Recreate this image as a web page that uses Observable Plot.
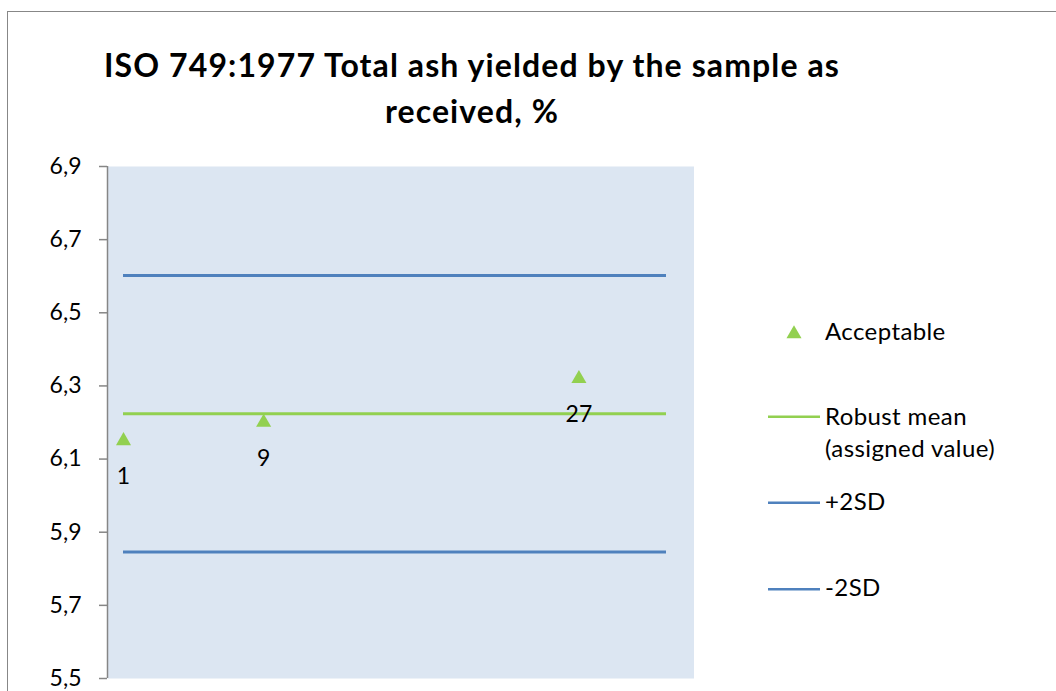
<!DOCTYPE html>
<html><head><meta charset="utf-8">
<script src="https://cdn.jsdelivr.net/npm/d3@7"></script>
<script src="https://cdn.jsdelivr.net/npm/@observablehq/plot@0.6"></script>
<style>
html,body{margin:0;padding:0}
body{width:1056px;height:691px;overflow:hidden;background:#fff;font-family:Lato,sans-serif;position:relative;color:#000}
#frame{position:absolute;left:7px;top:11px;width:1200px;height:900px;border-left:1.5px solid #878787;border-top:1.5px solid #878787}
#title{position:absolute;left:0;width:944px;top:42px;text-align:center;font-weight:bold;font-size:32px;line-height:46px;letter-spacing:1.1px}
#chart{position:absolute;left:0;top:0}
.leg{position:absolute;font-size:24px;line-height:30px;white-space:nowrap;letter-spacing:0.4px}
#legsw{position:absolute;left:0;top:0}
</style></head>
<body>
<div id="frame"></div>
<div id="chart"></div>
<div id="title">ISO 749:1977 Total ash yielded by the sample as<br>received, %</div>
<svg id="legsw" width="1056" height="691"></svg>
<div class="leg" style="left:825px;top:315.7px">Acceptable</div>
<div class="leg" style="left:825px;top:399.7px;line-height:32px">Robust mean<br>(assigned value)</div>
<div class="leg" style="left:825px;top:486.4px">+2SD</div>
<div class="leg" style="left:825px;top:571.7px">-2SD</div>
<script>
// ---- data ----
const labs = [1, 9, 27];
const labValues = [6.15, 6.20, 6.32];
const robustMean = 6.224;
const plus2SD = 6.602;
const minus2SD = 5.846;
const firstLab = 1;
const lastLab = 32;
const yTicks = [5.5, 5.7, 5.9, 6.1, 6.3, 6.5, 6.7, 6.9];
const seriesNames = ["Acceptable", "Robust mean (assigned value)", "+2SD", "-2SD"];

const green = "#92d050", blue = "#4f81bd", gray = "#868686";
const points = labs.map((lab, i) => ({lab, value: labValues[i]}));
const refLines = [
  {name: seriesNames[1], value: robustMean, x1: firstLab, x2: lastLab, color: green},
  {name: seriesNames[2], value: plus2SD, x1: firstLab, x2: lastLab, color: blue},
  {name: seriesNames[3], value: minus2SD, x1: firstLab, x2: lastLab, color: blue}
];
const xMin = 0.086, xMax = 33.57;

const chart = Plot.plot({
  width: 1056, height: 691,
  marginLeft: 107, marginRight: 362.5, marginTop: 166, marginBottom: 13,
  style: {fontFamily: "Lato, sans-serif", fontSize: "23px", background: "transparent", overflow: "visible"},
  x: {domain: [xMin, xMax], axis: null},
  y: {domain: [5.5, 6.9]},
  marks: [
    Plot.frame({fill: "#dce6f2", stroke: "none"}),
    Plot.ruleX([xMin], {stroke: gray, strokeWidth: 1.5}),
    Plot.axisY({ticks: yTicks, tickFormat: d => d.toFixed(1).replace(".", ","), tickSize: 8, tickPadding: 18,
      stroke: gray, strokeWidth: 1.5, fill: "#000", fontSize: 23, label: null}),
    Plot.ruleY(refLines, {y: "value", x1: "x1", x2: "x2", stroke: "color", strokeWidth: 3}),
    Plot.dot(points, {x: "lab", y: "value", symbol: "triangle", r: 5.6, fill: green, stroke: "none"}),
    Plot.text(points, {x: "lab", y: "value", text: d => String(d.lab), dy: 36, fontSize: 23, fill: "#000"})
  ]
});
document.getElementById("chart").appendChild(chart);

// legend swatches
const sw = d3.select("#legsw");
sw.append("path").attr("d", d3.symbol(d3.symbolTriangle, 5.6*5.6*Math.PI)()).attr("transform", "translate(794,334)").attr("fill", green);
[[416.7, green], [502.7, blue], [589.3, blue]].forEach(([y, c]) => {
  sw.append("line").attr("x1", 768).attr("x2", 820).attr("y1", y).attr("y2", y).attr("stroke", c).attr("stroke-width", 2.5);
});
</script>
</body></html>
